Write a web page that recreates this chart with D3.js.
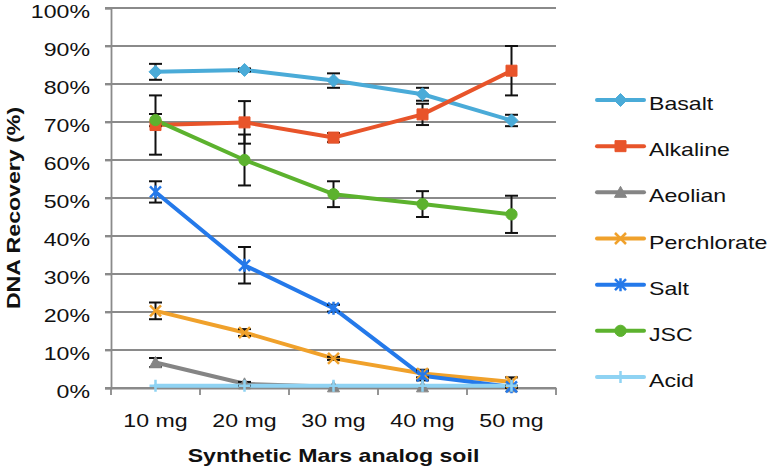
<!DOCTYPE html>
<html><head><meta charset="utf-8">
<script src="https://cdn.jsdelivr.net/npm/d3@7"></script>
<style>
html,body{margin:0;padding:0;background:#fff;}
svg{display:block;font-family:"Liberation Sans",Arial,Helvetica,sans-serif;}
</style></head>
<body>
<svg id="chart" width="771" height="469"></svg>
<script>
// ---------------- data ----------------
const categories = ["10 mg", "20 mg", "30 mg", "40 mg", "50 mg"];
const seriesNames = ["Basalt", "Alkaline", "Aeolian", "Perchlorate", "Salt", "JSC", "Acid"];
const basalt      = [83.2, 83.7, 80.9, 77.3, 70.4];
const basaltErr   = [2.1, 0.4, 1.9, 1.7, 1.5];
const alkaline    = [69.2, 69.9, 65.9, 72.0, 83.5];
const alkalineErr = [7.8, 5.6, 1.2, 2.8, 6.5];
const aeolian     = [6.7, 1.1, 0.3, 0.3, 0.3];
const aeolianErr  = [1.2, 0.5, 0, 0, 0];
const perchlorate = [20.3, 14.6, 7.8, 3.8, 1.6];
const perchlorateErr = [2.2, 0.9, 0.4, 1.0, 1.2];
const salt        = [51.6, 32.3, 21.0, 3.2, 0.3];
const saltErr     = [2.8, 4.8, 0.9, 1.2, 0.3];
const jsc         = [70.5, 60.0, 51.0, 48.4, 45.7];
const jscErr      = [1.6, 6.7, 3.4, 3.4, 4.9];
const acid        = [0.6, 0.6, 0.6, 0.6, 0.6];
const acidErr     = [0, 0, 0, 0, 0];
const yTicks = [0, 10, 20, 30, 40, 50, 60, 70, 80, 90, 100];
const xTitle = "Synthetic Mars analog soil";
const yTitle = "DNA Recovery (%)";

const values = [basalt, alkaline, aeolian, perchlorate, salt, jsc, acid];
const errors = [basaltErr, alkalineErr, aeolianErr, perchlorateErr, saltErr, jscErr, acidErr];
const colors = ["#4aabd8", "#e8542a", "#858585", "#f0a12b", "#2479ea", "#5cb22e", "#8fd3f3"];
const markers = ["diamond", "square", "triangle", "x", "asterisk", "circle", "plus"];

const series = seriesNames.map((n, i) => ({
  name: n, color: colors[i], marker: markers[i],
  pts: categories.map((c, j) => ({cat: c, v: values[i][j], e: errors[i][j]}))
}));

// ---------------- layout ----------------
const svg = d3.select("#chart");
const L = 111, R = 556, T = 8, B = 388;
const SX = 1.25; // horizontal text stretch seen in reference
const grid = "#8a8a8a";

const x = d3.scaleBand().domain(categories).range([L, R]).padding(0);
const y = d3.scaleLinear().domain([0, 100]).range([B, T]);
const cx = c => x(c) + x.bandwidth() / 2;

// gridlines
svg.append("g").selectAll("line").data(yTicks).join("line")
  .attr("x1", L - 6).attr("x2", R).attr("y1", d => y(d)).attr("y2", d => y(d))
  .attr("stroke", grid).attr("stroke-width", 1.8);

// y axis
const yAxis = svg.append("g").attr("transform", `translate(${L},0)`)
  .call(d3.axisLeft(y).tickValues(yTicks).tickFormat(d => d + "%").tickSize(6));
yAxis.select(".domain").attr("stroke", grid).attr("stroke-width", 1.8);
yAxis.selectAll(".tick line").attr("stroke", grid).attr("stroke-width", 1.8);
yAxis.selectAll(".tick text")
  .attr("x", -21 / SX).attr("dy", 9.5)
  .attr("transform", `scale(${SX},1)`)
  .attr("font-size", 18.5).attr("fill", "#111").attr("font-family", null);

// x axis
const xAxis = svg.append("g").attr("transform", `translate(0,${B})`)
  .call(d3.axisBottom(x).tickSize(0).tickSizeOuter(0));
xAxis.select(".domain").attr("stroke", grid).attr("stroke-width", 1.8);
xAxis.selectAll(".tick text").attr("y", 39).attr("dy", 0)
  .attr("transform", `scale(${SX},1)`)
  .attr("font-size", 18.5).attr("fill", "#111").attr("font-family", null);
// boundary ticks
const bounds = categories.map(c => x(c)).concat([R]);
svg.append("g").selectAll("line").data(bounds).join("line")
  .attr("x1", d => d).attr("x2", d => d).attr("y1", B).attr("y2", B + 7)
  .attr("stroke", grid).attr("stroke-width", 1.8);

// titles
svg.append("text").text(xTitle)
  .attr("transform", `translate(${(L + R) / 2},462) scale(${SX},1)`)
  .attr("text-anchor", "middle").attr("font-weight", "bold").attr("font-size", 18.5).attr("fill", "#111");
svg.append("text").text(yTitle)
  .attr("transform", `translate(20,208) rotate(-90) scale(${SX},1)`)
  .attr("text-anchor", "middle").attr("font-weight", "bold").attr("font-size", 18.5).attr("fill", "#111");

// marker path generator
function markerPath(type) {
  switch (type) {
    case "diamond": return "M0,-6.5L6.5,0L0,6.5L-6.5,0Z";
    case "square": return "M-5.5,-5.5H5.5V5.5H-5.5Z";
    case "triangle": return "M0,-6L6,5L-6,5Z";
    case "circle": return d3.symbol(d3.symbolCircle, 100)();
    case "x": return "M-5.5,-5.5L5.5,5.5M5.5,-5.5L-5.5,5.5";
    case "asterisk": return "M-5.5,-5.5L5.5,5.5M5.5,-5.5L-5.5,5.5M0,-6.5L0,6.5";
    case "plus": return "M-6,0H6M0,-6V6";
  }
}
const stroked = t => t === "x" || t === "asterisk" || t === "plus";

// lines
const line = d3.line().x(d => cx(d.cat)).y(d => y(d.v));
svg.append("g").selectAll("path").data(series).join("path")
  .attr("d", s => line(s.pts)).attr("fill", "none")
  .attr("stroke", s => s.color).attr("stroke-width", 4)
  .attr("stroke-linejoin", "round").attr("stroke-linecap", "round");

// error bars
const eb = svg.append("g");
series.forEach(s => {
  s.pts.filter(p => p.e > 0).forEach(p => {
    const xx = cx(p.cat), y1 = y(p.v + p.e), y2 = y(Math.max(0, p.v - p.e));
    eb.append("line").attr("x1", xx).attr("x2", xx).attr("y1", y1).attr("y2", y2)
      .attr("stroke", "#111").attr("stroke-width", 2);
    [y1, y2].forEach(yy => eb.append("line").attr("x1", xx - 6.5).attr("x2", xx + 6.5)
      .attr("y1", yy).attr("y2", yy).attr("stroke", "#111").attr("stroke-width", 2));
  });
});

// markers
series.forEach(s => {
  svg.append("g").selectAll("path").data(s.pts).join("path")
    .attr("transform", d => `translate(${cx(d.cat)},${y(d.v)})`)
    .attr("d", markerPath(s.marker))
    .attr("fill", stroked(s.marker) ? "none" : s.color)
    .attr("stroke", s.color).attr("stroke-width", stroked(s.marker) ? 2.5 : 1);
});

// legend
const legY = d3.scalePoint().domain(seriesNames).range([100, 377]);
const leg = svg.append("g").selectAll("g").data(series).join("g")
  .attr("transform", s => `translate(597,${legY(s.name)})`);
leg.append("line").attr("x1", 0).attr("x2", 47).attr("y1", 0).attr("y2", 0)
  .attr("stroke", s => s.color).attr("stroke-width", 4).attr("stroke-linecap", "round");
leg.append("path").attr("transform", "translate(23.5,0)")
  .attr("d", s => markerPath(s.marker))
  .attr("fill", s => stroked(s.marker) ? "none" : s.color)
  .attr("stroke", s => s.color).attr("stroke-width", s => stroked(s.marker) ? 2.5 : 1);
leg.append("text").text(s => s.name)
  .attr("transform", `translate(52,10) scale(${SX},1)`)
  .attr("font-size", 18.5).attr("fill", "#111");
</script>
</body></html>
